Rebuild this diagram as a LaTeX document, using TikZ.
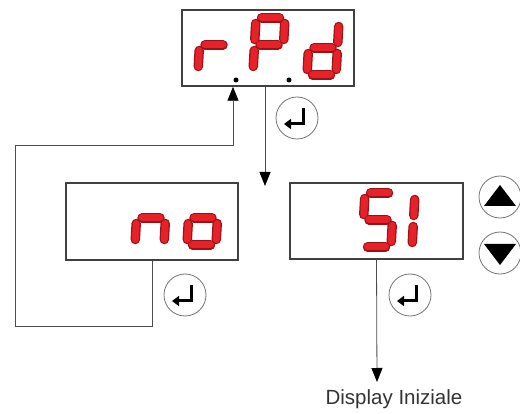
\documentclass[tikz,border=0pt]{standalone}
\usepackage{fontspec}
\setmainfont{Liberation Sans}
\usetikzlibrary{arrows.meta,calc,positioning}

\definecolor{segred}{RGB}{232,32,40}
\definecolor{segdark}{RGB}{150,20,24}

\tikzset{
	display/.style={draw=black!75, line width=1.5pt, minimum width=172pt, minimum height=76pt, inner sep=0pt},
	btn/.style={circle, draw=black!55, line width=0.8pt, minimum size=42pt, inner sep=0pt},
	flow/.style={draw=black!70, line width=0.8pt},
	tip/.style={-{Triangle[width=11pt,length=14pt,black]}},
	segout/.style={line width=9.5pt, draw=segdark, line cap=round, shorten <=5.5pt, shorten >=5.5pt},
	segin/.style={line width=7pt, draw=segred, line cap=round, shorten <=5.5pt, shorten >=5.5pt}
}

% one seven-segment digit: origin, list of segments
\newcommand{\segdigit}[3]{%
	\begin{scope}[shift={(#1,#2)}]
		\coordinate (A) at (3,0);  \coordinate (B) at (32,0);
		\coordinate (F) at (1.5,27); \coordinate (G) at (30.5,27);
		\coordinate (E) at (0,54); \coordinate (D) at (29,54);
		\foreach \p/\q in {#3} {\draw[segout] (\p) -- (\q);}
		\foreach \p/\q in {#3} {\draw[segin] (\p) -- (\q);}
	\end{scope}}

% enter key
\newcommand{\enterkey}[2]{%
	\node[btn] (#1) at (#2) {};
	\draw[line width=3pt, -{Triangle[width=10pt,length=7pt]}] ([xshift=6pt,yshift=10pt]#1.center) |- ([xshift=-13pt,yshift=-6pt]#1.center);}

\begin{document}
\begin{tikzpicture}[x=1pt,y=-1pt]
	\useasboundingbox (0,0) rectangle (520,414);

	% displays
	\node[display] (rpd) at (268,48) {};
	\node[display, minimum height=77pt] (no) at (152,221.5) {};
	\node[display, minimum width=173pt] (si) at (376.5,221) {};

	% digits
	\segdigit{198}{18}{E/F,F/G}
	\segdigit{253}{18}{A/B,B/G,A/F,F/G,F/E}
	\segdigit{307}{21}{B/G,G/D,E/D,F/E,F/G}
	\fill (236,80) circle (2.5);
	\fill (289,80) circle (2.5);

	\segdigit{135}{191}{F/E,F/G,G/D}
	\segdigit{187}{191}{G/D,E/D,F/E,F/G}

	\segdigit{362}{193}{A/B,A/F,F/G,G/D,E/D}
	\segdigit{412}{194}{A/F,F/E}

	% keys
	\enterkey{ent1}{297,118}
	\enterkey{ent2}{185,295}
	\enterkey{ent3}{410,295}

	\node[btn] (up) at (500,197) {};
	\fill ([yshift=12pt]up.center) -- ([xshift=-16pt,yshift=-9pt]up.center) -- ([xshift=16pt,yshift=-9pt]up.center) -- cycle;
	\node[btn] (dn) at (500,253) {};
	\fill ([yshift=-12pt]dn.center) -- ([xshift=-16pt,yshift=9pt]dn.center) -- ([xshift=16pt,yshift=9pt]dn.center) -- cycle;

	% connectors
	\coordinate (down) at (265,186);
	\coordinate (loopL) at (15,326);
	\coordinate (loopT) at (233,145);
	\coordinate (exit) at (377,382);
	\node[text=black!80, font=\fontsize{20.5}{24}\selectfont] (disp) at (394,399) {Display Iniziale};

	\draw[flow,tip] ([xshift=-3pt]rpd.south) -- (down);
	\draw[flow,tip] (no.south) |- (loopL) |- (loopT) -- (loopT |- rpd.south);
	\draw[flow,tip] (si.south) -- (exit);
\end{tikzpicture}
\end{document}
